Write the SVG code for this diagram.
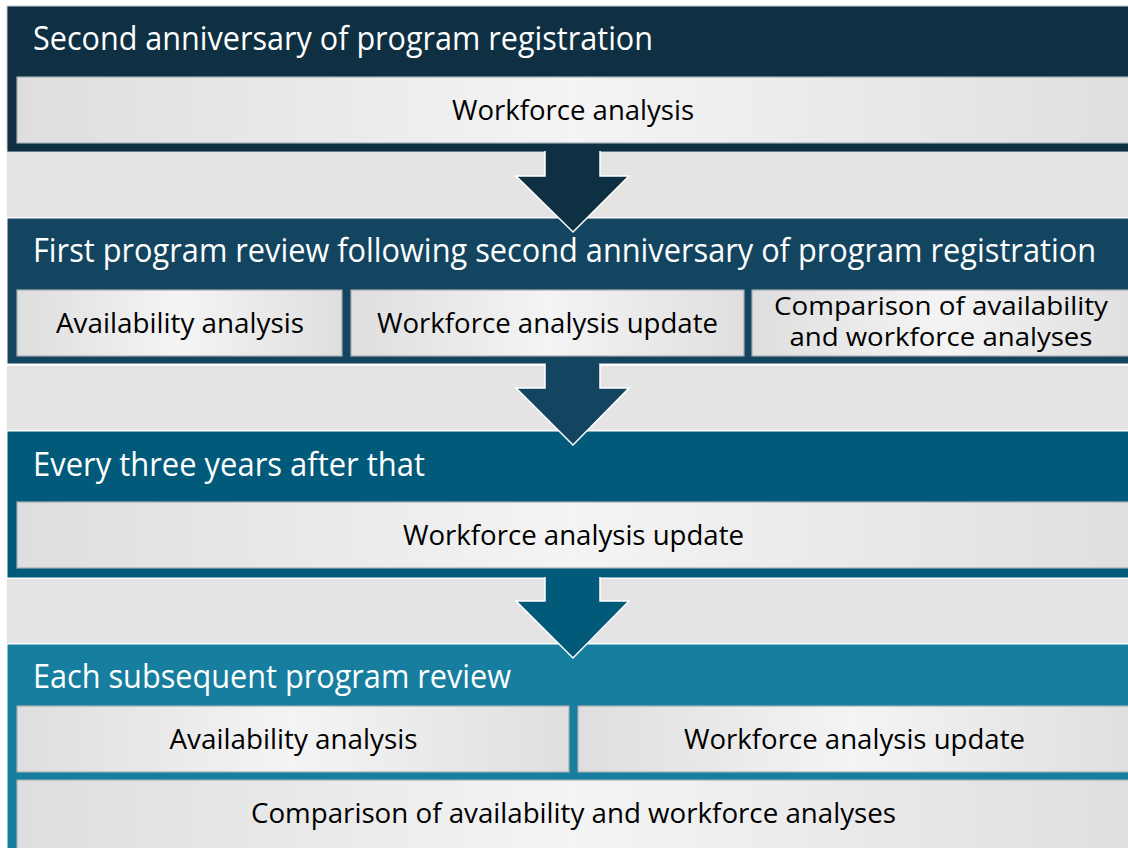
<svg xmlns="http://www.w3.org/2000/svg" width="1128" height="848" viewBox="0 0 1128 848">
<defs>
<linearGradient id="boxg" x1="0" y1="0" x2="1" y2="0">
<stop offset="0" stop-color="#dedede"/>
<stop offset="0.5" stop-color="#f4f4f4"/>
<stop offset="1" stop-color="#dfdfdf"/>
</linearGradient>
<style>
.gap{fill:#e4e4e4;stroke:#ffffff;stroke-width:1.5}
.box{fill:url(#boxg);stroke:#a3adb3;stroke-width:1.2}
.title{font-family:"Open Sans","Noto Sans",sans-serif;font-size:32px;fill:#ffffff}
.lbl{font-family:"Open Sans","Noto Sans",sans-serif;font-size:28px;fill:#000000;text-anchor:middle}
.lbl2{font-size:26px}
.arrow{stroke:#ffffff;stroke-width:1.5;stroke-linejoin:miter}
</style>
</defs>
<rect x="0" y="0" width="1128" height="848" fill="#ffffff"/>
<g id="gaps">
<rect class="gap" x="6" y="152" width="1130" height="66"/>
<rect class="gap" x="6" y="365" width="1130" height="66"/>
<rect class="gap" x="6" y="578" width="1130" height="66"/>
</g>
<g id="stage1">
<rect x="7" y="6" width="1130" height="146" fill="#0e3042" stroke="#c8ced2" stroke-width="1"/>
<text class="title" x="33" y="50" textLength="620" lengthAdjust="spacingAndGlyphs">Second anniversary of program registration</text>
<rect class="box" x="17" y="77" width="1114" height="66"/>
<text class="lbl" x="573" y="120" textLength="242" lengthAdjust="spacingAndGlyphs">Workforce analysis</text>
</g>
<g id="stage2">
<rect x="7" y="218" width="1130" height="146" fill="#134560" stroke="#ffffff" stroke-width="1"/>
<text class="title" x="33" y="262" font-size="31" textLength="1063" lengthAdjust="spacingAndGlyphs">First program review following second anniversary of program registration</text>
<rect class="box" x="17" y="290" width="325" height="66"/>
<text class="lbl" x="180" y="333" textLength="248" lengthAdjust="spacingAndGlyphs">Availability analysis</text>
<rect class="box" x="351" y="290" width="393" height="66"/>
<text class="lbl" x="547.5" y="333" textLength="341" lengthAdjust="spacingAndGlyphs">Workforce analysis update</text>
<rect class="box" x="752" y="290" width="379" height="66"/>
<text class="lbl lbl2" x="941" y="315" textLength="334" lengthAdjust="spacingAndGlyphs">Comparison of availability</text>
<text class="lbl lbl2" x="941" y="346" textLength="303" lengthAdjust="spacingAndGlyphs">and workforce analyses</text>
</g>
<g id="stage3">
<rect x="7" y="431" width="1130" height="147" fill="#025a7a" stroke="#ffffff" stroke-width="1"/>
<text class="title" x="33" y="476" textLength="392" lengthAdjust="spacingAndGlyphs">Every three years after that</text>
<rect class="box" x="17" y="502" width="1114" height="66"/>
<text class="lbl" x="573.5" y="545" textLength="341" lengthAdjust="spacingAndGlyphs">Workforce analysis update</text>
</g>
<g id="stage4">
<rect x="7" y="644" width="1130" height="210" fill="#177ea0" stroke="#ffffff" stroke-width="1"/>
<text class="title" x="33" y="688" textLength="478" lengthAdjust="spacingAndGlyphs">Each subsequent program review</text>
<rect class="box" x="17" y="706" width="552" height="66"/>
<text class="lbl" x="293.5" y="749" textLength="248" lengthAdjust="spacingAndGlyphs">Availability analysis</text>
<rect class="box" x="578" y="706" width="553" height="66"/>
<text class="lbl" x="854.5" y="749" textLength="341" lengthAdjust="spacingAndGlyphs">Workforce analysis update</text>
<rect class="box" x="17" y="780" width="1114" height="70"/>
<text class="lbl" x="573.5" y="823" textLength="645" lengthAdjust="spacingAndGlyphs">Comparison of availability and workforce analyses</text>
</g>
<g id="connectors">
<path class="arrow" fill="#0e3042" d="M545,151 L545,176 L516,176 L573,232 L629,176 L600,176 L600,151"/>
<rect x="546" y="149" width="53" height="6" fill="#0e3042"/>
<path class="arrow" fill="#134560" d="M545,364 L545,388 L516,388 L573,445 L629,388 L600,388 L600,364"/>
<rect x="546" y="361" width="53" height="6" fill="#134560"/>
<path class="arrow" fill="#025a7a" d="M545,577 L545,601 L516,601 L573,658 L629,601 L600,601 L600,577"/>
<rect x="546" y="574" width="53" height="6" fill="#025a7a"/>
</g>
</svg>
